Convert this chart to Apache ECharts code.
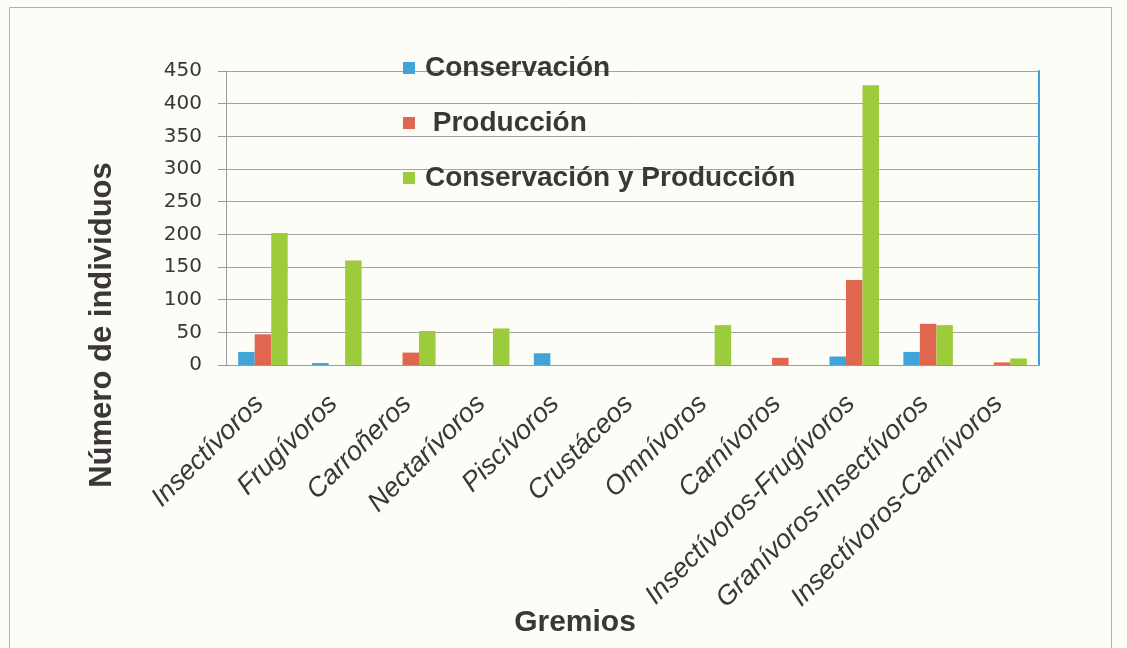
<!DOCTYPE html>
<html>
<head>
<meta charset="utf-8">
<script src="https://cdn.jsdelivr.net/npm/echarts@6/dist/echarts.min.js"></script>
<style>
html,body{margin:0;padding:0;background:#fdfdf8;}
#chart{width:1127px;height:648px;}
</style>
</head>
<body>
<div id="chart"></div>
<script>
var categories = ['Insectívoros','Frugívoros','Carroñeros','Nectarívoros','Piscívoros','Crustáceos','Omnívoros','Carnívoros','Insectívoros-Frugívoros','Granívoros-Insectívoros','Insectívoros-Carnívoros'];
var seriesNames = ['Conservación','Producción','Conservación y Producción'];
var conservacion = [20, 3, 0, 0, 18, 0, 0, 0, 13, 20, 0];
var produccion = [47, 0, 19, 0, 0, 0, 0, 11, 130, 63, 4];
var conservacionProduccion = [202, 160, 52, 56, 0, 0, 61, 0, 428, 61, 10];
var yTicks = {min: 0, max: 450, interval: 50};
var yTitle = 'Número de individuos';
var xTitle = 'Gremios';

var textColor = '#3b3638';
var chart = echarts.init(document.getElementById('chart'));
chart.setOption({
  backgroundColor: '#fdfdf8',
  animation: false,
  color: ['#3fa4d9', '#e0664f', '#9ccc3c'],
  grid: {left: 226, right: 88, top: 71, bottom: 283, containLabel: false},
  legend: {
    orient: 'vertical',
    left: 403,
    top: 54,
    padding: 0,
    itemWidth: 12,
    itemHeight: 12,
    itemGap: 27,
    icon: 'rect',
    formatter: function (n) { return n === 'Producción' ? ' Producción' : n; },
    textStyle: {fontFamily: 'Liberation Sans', fontWeight: 'bold', fontSize: 28, color: textColor, padding: [0,0,0,5]},
    data: seriesNames
  },
  xAxis: {
    type: 'category',
    data: categories,
    axisLine: {show: true, lineStyle: {color: '#9a9a9a', width: 1}},
    axisTick: {show: false},
    axisLabel: {
      interval: 0, rotate: 45, margin: 31, padding: [0, 5, 0, 0],
      fontFamily: 'Liberation Sans', fontStyle: 'italic', fontSize: 27, color: textColor
    },
    splitLine: {show: false}
  },
  yAxis: [{
    type: 'value',
    min: yTicks.min, max: yTicks.max, interval: yTicks.interval,
    axisLine: {show: true, lineStyle: {color: '#9a9a9a', width: 1}},
    axisTick: {show: true, length: 8, lineStyle: {color: '#9a9a9a'}},
    axisLabel: {margin: 24, fontFamily: 'DejaVu Sans', fontSize: 20, color: textColor},
    splitLine: {show: true, lineStyle: {color: '#a3a3a3', width: 1}}
  }, {
    type: 'value',
    position: 'right',
    min: yTicks.min, max: yTicks.max, interval: yTicks.interval,
    axisLine: {show: true, lineStyle: {color: '#3f9fdc', width: 2}},
    axisTick: {show: false},
    axisLabel: {show: false},
    splitLine: {show: false}
  }],
  series: [
    {name: seriesNames[0], type: 'bar', data: conservacion, barGap: '0%', barCategoryGap: '33%'},
    {name: seriesNames[1], type: 'bar', data: produccion, barGap: '0%', barCategoryGap: '33%'},
    {name: seriesNames[2], type: 'bar', data: conservacionProduccion, barGap: '0%', barCategoryGap: '33%'}
  ],
  graphic: [
    {type: 'rect', shape: {x: 9.5, y: 7.5, width: 1102, height: 700}, style: {fill: null, stroke: '#b0b0b0', lineWidth: 1}, silent: true},
    {type: 'text', x: 102, y: 325, rotation: Math.PI / 2,
      style: {text: yTitle, fontFamily: 'Liberation Sans', fontWeight: 'bold', fontSize: 31, fill: textColor, align: 'center', verticalAlign: 'middle'}},
    {type: 'text', x: 575, y: 623,
      style: {text: xTitle, fontFamily: 'Liberation Sans', fontWeight: 'bold', fontSize: 30, fill: textColor, align: 'center', verticalAlign: 'middle'}}
  ]
});
</script>
</body>
</html>
